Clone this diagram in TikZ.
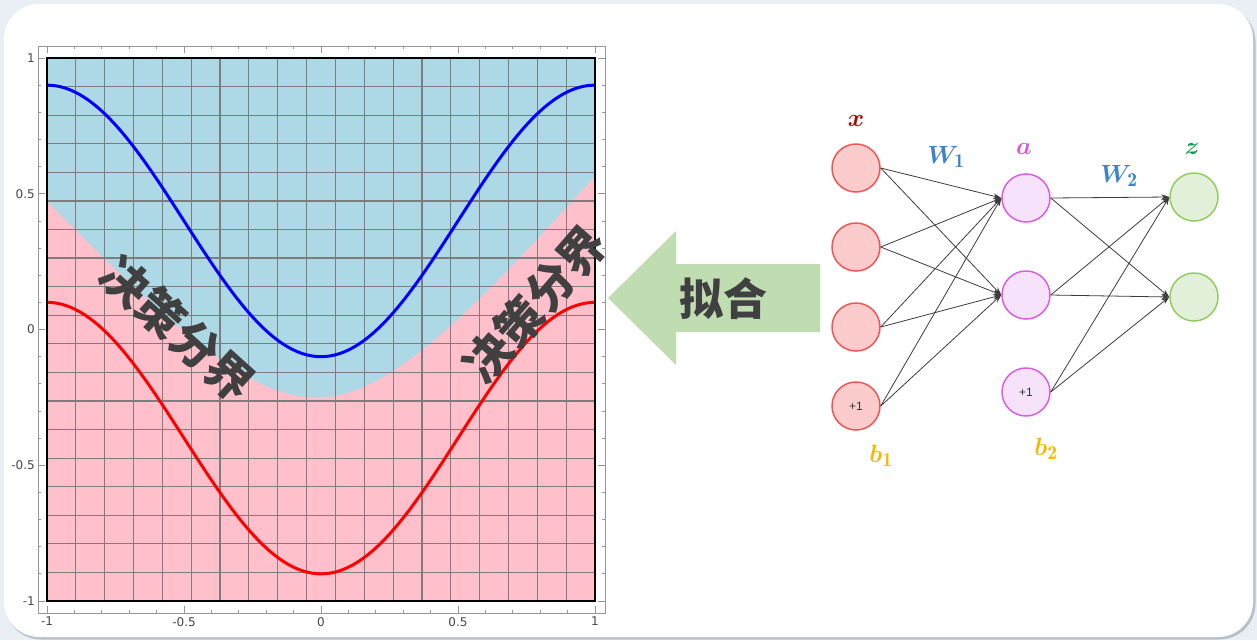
\documentclass[tikz,border=0pt]{standalone}
\usepackage{fontspec}
\usepackage{bm}
\usetikzlibrary{arrows.meta}
\newfontfamily\cjk{Noto Sans CJK SC}
\newfontfamily\tickfont{DejaVu Sans}
\newfontfamily\plusfont{Liberation Sans}
\definecolor{bgcol}{RGB}{233,239,245}
\definecolor{shadowcol}{RGB}{185,192,200}
\definecolor{plotblue}{RGB}{173,216,230}
\definecolor{plotpink}{RGB}{255,192,203}
\definecolor{gridcol}{RGB}{125,125,125}
\definecolor{framegray}{RGB}{150,150,150}
\definecolor{ticktext}{RGB}{70,70,70}
\definecolor{darktext}{RGB}{64,64,64}
\definecolor{arrowgreen}{RGB}{191,221,176}
\definecolor{inred}{RGB}{240,85,85}
\definecolor{inredfill}{RGB}{252,204,204}
\definecolor{hidstroke}{RGB}{215,95,225}
\definecolor{hidfill}{RGB}{246,226,250}
\definecolor{outstroke}{RGB}{145,205,95}
\definecolor{outfill}{RGB}{226,240,217}
\definecolor{xcol}{RGB}{176,0,0}
\definecolor{wcol}{RGB}{61,133,198}
\definecolor{acol}{RGB}{212,90,217}
\definecolor{zcol}{RGB}{18,160,80}
\definecolor{bcol}{RGB}{246,184,0}
\definecolor{edgecol}{RGB}{60,60,60}
\tikzset{
  declare function={bnd(\t)=-0.25+1.187*(sqrt(\t*\t+0.2)-sqrt(0.2))+0.046*\t;},
  cjklabel/.style={text=darktext, font=\cjk\bfseries\fontsize{47}{50}\selectfont, inner sep=0pt},
  fitlabel/.style={text=darktext, font=\cjk\bfseries\fontsize{44}{48}\selectfont, inner sep=0pt},
  ticklabel/.style={text=ticktext, font=\tickfont\fontsize{12}{14}\selectfont, inner sep=1pt},
  neuron/.style={circle, minimum size=48pt, inner sep=0pt, line width=1.5pt},
  inp/.style={neuron, draw=inred, fill=inredfill},
  hid/.style={neuron, draw=hidstroke, fill=hidfill},
  outn/.style={neuron, draw=outstroke, fill=outfill},
  plustext/.style={font=\plusfont\fontsize{12}{14}\selectfont, text=black!80},
  edge/.style={draw=edgecol, line width=0.8pt, -{Stealth[length=8pt,width=5.5pt]}},
  netlabel/.style={inner sep=0pt, font=\fontsize{28}{32}\selectfont},
}
\begin{document}
\begin{tikzpicture}[x=1pt,y=-1pt]
\useasboundingbox (0,0) rectangle (1257,640);
% background and card
\fill[bgcol] (0,0) rectangle (1257,640);
\fill[shadowcol, rounded corners=36pt] (5,6) rectangle (1255.5,639.5);
\fill[white, rounded corners=35pt] (4,4) rectangle (1253,637);

% plot
\begin{scope}[shift={(321,329.5)}, x=274pt, y=271.5pt]
  \fill[plotblue] (-1,-1) rectangle (1,1);
  \fill[plotpink] (-1,-1) -- plot[domain=-1:1, samples=101] (\x,{bnd(\x)}) -- (1,-1) -- cycle;
  \foreach \i in {1,...,18} {
    \draw[gridcol, line width=1.2pt] ({-1+\i*2/19},-1) -- ({-1+\i*2/19},1);
    \draw[gridcol, line width=1.2pt] (-1,{-1+\i*2/19}) -- (1,{-1+\i*2/19});
  }
  \draw[blue, line width=3pt] plot[domain=-1:1, samples=121, smooth] (\x,{0.4-0.5*cos(180*\x)});
  \draw[red, line width=3pt] plot[domain=-1:1, samples=121, smooth] (\x,{-0.4-0.5*cos(180*\x)});
  \draw[black, line width=2pt] (-1,-1) rectangle (1,1);
\end{scope}
% outer axes frame and ticks
\draw[framegray, line width=1pt] (38,46) rectangle (605,613);
\foreach \k in {-10,...,10} {
  \pgfmathsetmacro\len{ifthenelse(mod(\k,5)==0,7,3)}
  \pgfmathsetmacro\px{321+27.4*\k}
  \pgfmathsetmacro\py{329.5-27.15*\k}
  \draw[framegray, line width=0.8pt] (\px,46) -- ++(0,\len);
  \draw[framegray, line width=0.8pt] (\px,613) -- ++(0,-\len);
  \draw[framegray, line width=0.8pt] (38,\py) -- ++(\len,0);
  \draw[framegray, line width=0.8pt] (605,\py) -- ++(-\len,0);
}
\node[ticklabel, anchor=east] (ty1) at (36,58) {1};
\node[ticklabel, anchor=east] (ty2) at (36,193.75) {0.5};
\node[ticklabel, anchor=east] (ty3) at (36,329.5) {0};
\node[ticklabel, anchor=east] (ty4) at (36,465.25) {-0.5};
\node[ticklabel, anchor=east] (ty5) at (36,601) {-1};
\node[ticklabel, anchor=north] (tx1) at (47,616) {-1};
\node[ticklabel, anchor=north] (tx2) at (184,616) {-0.5};
\node[ticklabel, anchor=north] (tx3) at (321,616) {0};
\node[ticklabel, anchor=north] (tx4) at (458,616) {0.5};
\node[ticklabel, anchor=north] (tx5) at (595,616) {1};

% decision boundary labels
\node[cjklabel, rotate=-42] (db1) at (178,329) {决策分界};
\node[cjklabel, rotate=49] (db2) at (535,304) {决策分界};

% arrow
\fill[arrowgreen] (608,298) -- (676,231) -- (676,264) -- (820,264) -- (820,332) -- (676,332) -- (676,365) -- cycle;
\node[fitlabel] (fit) at (723,299) {拟合};

% network
\node[inp] (i1) at (856,168) {};
\node[inp] (i2) at (856,247) {};
\node[inp] (i3) at (856,327) {};
\node[inp] (i4) at (856,406) {};
\node[plustext] at (i4.center) {+1};
\node[hid] (h1) at (1026,198) {};
\node[hid] (h2) at (1026,295) {};
\node[hid] (h3) at (1026,392) {};
\node[plustext] at (h3.center) {+1};
\node[outn] (o1) at (1194,197) {};
\node[outn] (o2) at (1194,297) {};
\foreach \s in {i1,i2,i3,i4} {
  \foreach \t in {h1,h2} {
    \draw[edge] (\s.east) -- (\t.west);
  }
}
\foreach \s in {h1,h2,h3} {
  \foreach \t in {o1,o2} {
    \draw[edge] (\s.east) -- (\t.west);
  }
}
\node[netlabel, text=xcol] (lx) at (856,121) {$\bm{x}$};
\node[netlabel, text=wcol] (lw1) at (946,157) {$\bm{W}_{\mathbf{1}}$};
\node[netlabel, text=acol] (la) at (1024,149) {$\bm{a}$};
\node[netlabel, text=wcol] (lw2) at (1119,176) {$\bm{W}_{\mathbf{2}}$};
\node[netlabel, text=zcol] (lz) at (1192,149) {$\bm{z}$};
\node[netlabel, text=bcol] (lb1) at (881,456) {$\bm{b}_{\mathbf{1}}$};
\node[netlabel, text=bcol] (lb2) at (1046,449) {$\bm{b}_{\mathbf{2}}$};
\end{tikzpicture}
\end{document}
